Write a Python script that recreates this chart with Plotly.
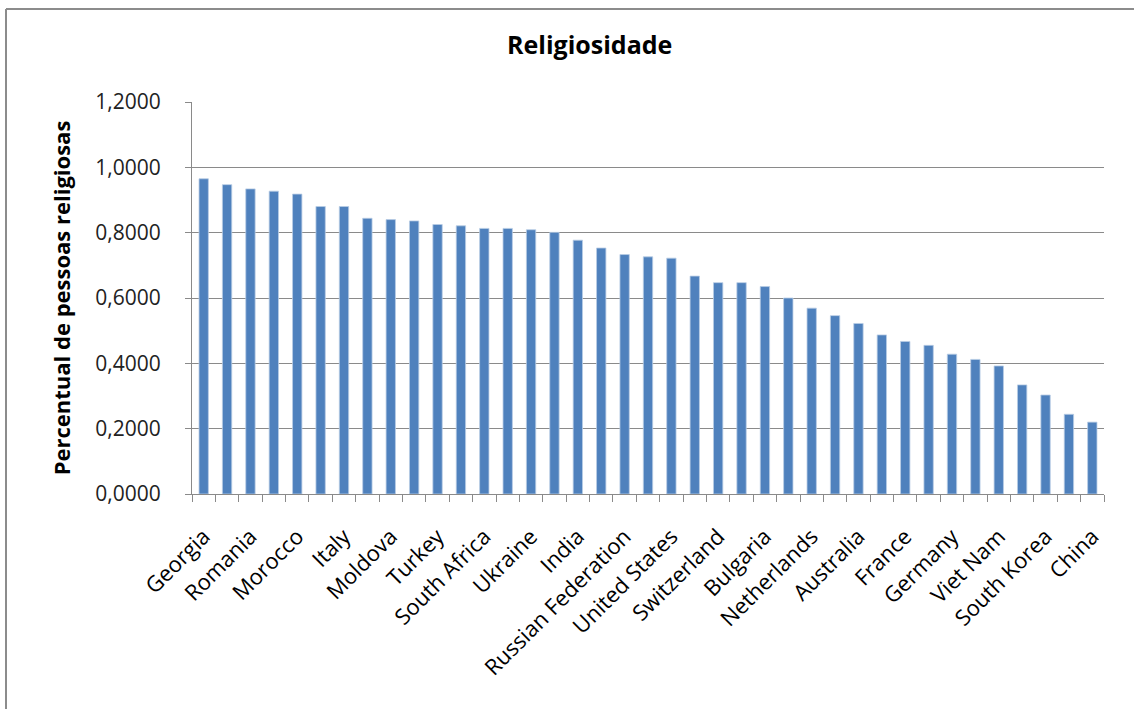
import plotly.graph_objects as go

# Share of religious people per country, sorted from most to least religious
religiosity = [
    0.965, 0.947, 0.934, 0.927, 0.918, 0.880, 0.880, 0.844, 0.840, 0.836,
    0.825, 0.821, 0.813, 0.813, 0.809, 0.801, 0.777, 0.753, 0.733, 0.726,
    0.722, 0.667, 0.647, 0.647, 0.635, 0.600, 0.569, 0.546, 0.522, 0.487,
    0.467, 0.455, 0.428, 0.412, 0.392, 0.334, 0.303, 0.244, 0.220,
]

# Country names shown on the axis (every second bar carries a label)
labelled_countries = [
    "Georgia", "Romania", "Morocco", "Italy", "Moldova", "Turkey",
    "South Africa", "Ukraine", "India", "Russian Federation",
    "United States", "Switzerland", "Bulgaria", "Netherlands", "Australia",
    "France", "Germany", "Viet Nam", "South Korea", "China",
]

y_ticks = [0.0, 0.2, 0.4, 0.6, 0.8, 1.0, 1.2]

positions = list(range(len(religiosity)))
label_positions = positions[::2]
boundaries = [p - 0.5 for p in positions] + [positions[-1] + 0.5]

FONT = "Open Sans, Lato, sans-serif"
GRID = "#8a8a8a"

W, H = 1134, 709
ML, MR, MT, MB = 192, 30, 102, 215
pw, ph = W - ML - MR, H - MT - MB

def px_x(x):
    return (x - ML) / pw

def px_y(y):
    return (H - MB - y) / ph

fig = go.Figure()
fig.add_trace(go.Bar(
    x=positions,
    y=religiosity,
    marker=dict(color="#4F81BD", line=dict(color="#B9CDE5", width=0.8)),
    hoverinfo="y",
))
# invisible companion trace that activates the label axis
fig.add_trace(go.Scatter(
    x=[positions[0], positions[-1]], y=[0, 0], xaxis="x2",
    mode="markers", marker=dict(opacity=0), hoverinfo="skip", showlegend=False,
))

xrange = [-0.5, len(religiosity) - 0.5]

fig.update_layout(
    width=W, height=H,
    margin=dict(l=ML, r=MR, t=MT, b=MB),
    paper_bgcolor="white", plot_bgcolor="white",
    separators=", ",
    showlegend=False,
    bargap=0.6,
    title=dict(
        text="<b>Religiosidade</b>", x=0.52, xanchor="center",
        y=1 - 45 / H, yanchor="middle",
        font=dict(family=FONT, size=25, color="black"),
    ),
    xaxis=dict(
        range=xrange,
        tickmode="array", tickvals=boundaries, ticktext=[""] * len(boundaries),
        ticks="outside", ticklen=7, tickcolor=GRID, tickwidth=1,
        showline=True, linecolor=GRID, linewidth=1,
        showgrid=False, zeroline=False, fixedrange=True,
    ),
    xaxis2=dict(
        range=xrange, overlaying="x", side="bottom", anchor="y",
        tickmode="array", tickvals=label_positions, ticktext=labelled_countries,
        tickangle=-45, ticks="outside", ticklen=20, tickcolor="rgba(0,0,0,0)",
        tickfont=dict(family=FONT, size=22, color="black"),
        showline=False, showgrid=False, zeroline=False,
    ),
    yaxis=dict(
        range=[0, 1.2],
        tickmode="array", tickvals=y_ticks, tickformat=".4f",
        tickfont=dict(family=FONT, size=21, color="#222"),
        ticks="outside", ticklen=6, tickcolor=GRID,
        ticklabelstandoff=20,
        showline=True, linecolor=GRID, linewidth=1,
        showgrid=True, gridcolor=GRID, gridwidth=1,
        zeroline=False,
        title=dict(
            text="<b>Percentual de pessoas religiosas</b>",
            font=dict(family=FONT, size=22, color="black"),
            standoff=18,
        ),
    ),
    shapes=[
        # chart frame: left and top edges
        dict(type="line", xref="paper", yref="paper",
             x0=px_x(6), x1=px_x(6), y0=px_y(9), y1=px_y(H + 5),
             line=dict(color="#8c8c8c", width=2)),
        dict(type="line", xref="paper", yref="paper",
             x0=px_x(6), x1=px_x(W + 5), y0=px_y(9), y1=px_y(9),
             line=dict(color="#8c8c8c", width=2)),
    ],
)

fig.write_html("out.html")
